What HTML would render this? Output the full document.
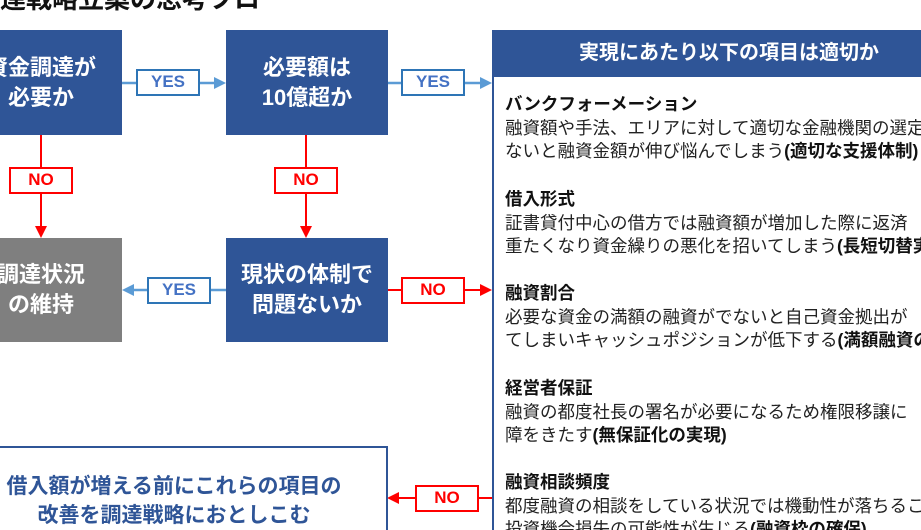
<!DOCTYPE html><html><head><meta charset="utf-8"><style>
html,body{margin:0;width:921px;height:530px;overflow:hidden}
body{background:#fff;position:relative;font-family:"Liberation Sans","Noto Sans CJK JP",sans-serif}
.a{position:absolute}
.bx{position:absolute;background:#2f5597;color:#fff;font-weight:bold;font-size:22px;line-height:30px;text-align:center;display:flex;align-items:center;justify-content:center}
.lb{position:absolute;box-sizing:border-box;background:#fff;font-weight:bold;font-size:17px;text-align:center;line-height:22px;height:27px;width:64px}
.y{border:2px solid #2e75b6;color:#4472c4}
.n{border:2px solid #f00;color:#f00}
.rt{position:absolute;left:505px;font-size:17.5px;line-height:23.5px;color:#222;white-space:nowrap}
.rt b{font-size:17.5px;color:#111}
</style></head><body>
<div class="a" style="left:0;top:-21px;font-size:26px;font-weight:bold;color:#111;white-space:nowrap">達戦略立案の思考フロ</div>

<div class="bx" style="left:-40px;top:30px;width:162px;height:105px">資金調達が<br>必要か</div>
<div class="bx" style="left:226px;top:30px;width:162px;height:105px">必要額は<br>10億超か</div>
<div class="bx" style="left:-40px;top:238px;width:162px;height:104px;background:#7f7f7f">調達状況<br>の維持</div>
<div class="bx" style="left:226px;top:238px;width:162px;height:104px">現状の体制で<br>問題ないか</div>

<svg class="a" style="left:0;top:0" width="921" height="530">
<g stroke="#5b9bd5" stroke-width="2.5" fill="#5b9bd5">
<line x1="122" y1="83" x2="214" y2="83"/><polygon points="214,77 226,83 214,89" stroke="none"/>
<line x1="388" y1="83" x2="480" y2="83"/><polygon points="480,77 492,83 480,89" stroke="none"/>
<line x1="226" y1="290" x2="134" y2="290"/><polygon points="134,284 122,290 134,296" stroke="none"/>
</g>
<g stroke="#f00" stroke-width="2" fill="#f00">
<line x1="41" y1="135" x2="41" y2="226"/><polygon points="35,226 41,238 47,226" stroke="none"/>
<line x1="306" y1="135" x2="306" y2="226"/><polygon points="300,226 306,238 312,226" stroke="none"/>
<line x1="388" y1="290" x2="480" y2="290"/><polygon points="480,284 492,290 480,296" stroke="none"/>
<line x1="492" y1="498" x2="399" y2="498"/><polygon points="399,492 387,498 399,504" stroke="none"/>
</g>
</svg>

<div class="lb y" style="left:136px;top:69px">YES</div>
<div class="lb y" style="left:401px;top:69px">YES</div>
<div class="lb y" style="left:147px;top:277px">YES</div>
<div class="lb n" style="left:9px;top:167px">NO</div>
<div class="lb n" style="left:274px;top:167px">NO</div>
<div class="lb n" style="left:401px;top:277px">NO</div>
<div class="lb n" style="left:415px;top:485px">NO</div>

<div class="a" style="left:-40px;top:446px;width:428px;height:84px;border:2px solid #2f5597;border-bottom:none;box-sizing:border-box;color:#2f5597;font-weight:bold;font-size:21px;line-height:29px;text-align:center;padding-top:24px;white-space:nowrap">借入額が増える前にこれらの項目の<br>改善を調達戦略におとしこむ</div>

<div class="a" style="left:492px;top:30px;width:429px;height:500px;border-left:2.5px solid #2f5597;box-sizing:border-box"></div>
<div class="a" style="left:492px;top:30px;width:429px;height:47px;background:#2f5597;color:#fff;font-weight:bold;font-size:20px;line-height:47px;padding-left:87px;box-sizing:border-box;white-space:nowrap;overflow:hidden">実現にあたり以下の項目は適切か</div>

<div class="a" style="left:0;top:0;width:921px;height:530px;overflow:hidden">
<div class="rt" style="top:93px"><b>バンクフォーメーション</b><br>融資額や手法、エリアに対して適切な金融機関の選定<br>ないと融資金額が伸び悩んでしまう<b>(適切な支援体制)</b></div>
<div class="rt" style="top:188px"><b>借入形式</b><br>証書貸付中心の借方では融資額が増加した際に返済<br>重たくなり資金繰りの悪化を招いてしまう<b>(長短切替実現)</b></div>
<div class="rt" style="top:282px"><b>融資割合</b><br>必要な資金の満額の融資がでないと自己資金拠出が<br>てしまいキャッシュポジションが低下する<b>(満額融資の確保)</b></div>
<div class="rt" style="top:377px"><b>経営者保証</b><br>融資の都度社長の署名が必要になるため権限移譲に<br>障をきたす<b>(無保証化の実現)</b></div>
<div class="rt" style="top:471px"><b>融資相談頻度</b><br>都度融資の相談をしている状況では機動性が落ちるこ<br>投資機会損失の可能性が生じる<b>(融資枠の確保)</b></div>
</div>
</body></html>
